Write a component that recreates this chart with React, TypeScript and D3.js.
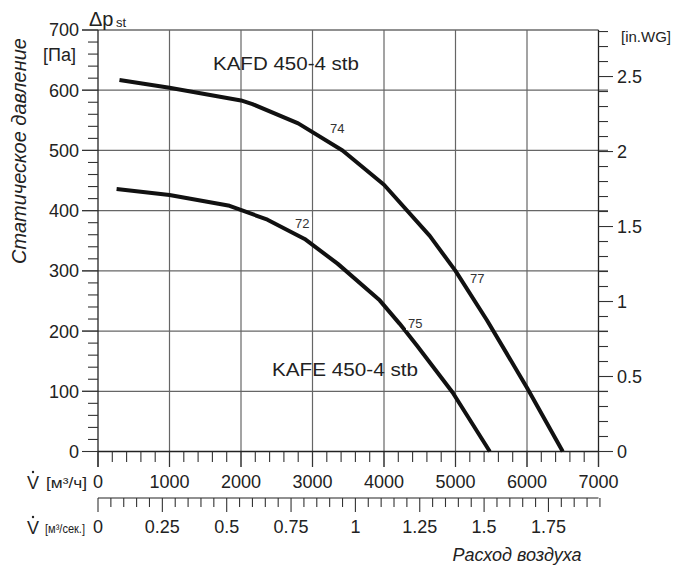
import React from "react";
import * as d3 from "d3";

const kafdFlow = [300, 1000, 2000, 2160, 2800, 3420, 4000, 4640, 5000, 5440, 6000, 6500];
const kafdPa = [617, 604, 583, 577, 545, 500, 443, 358, 300, 218, 106, 0];
const kafeFlow = [260, 1000, 1840, 2370, 2890, 3350, 3940, 4220, 4460, 4960, 5480];
const kafePa = [436, 426, 408, 385, 353, 312, 251, 212, 176, 98, 0];

const xTicksMajor = [0, 1000, 2000, 3000, 4000, 5000, 6000, 7000];
const yTicksMajor = [0, 100, 200, 300, 400, 500, 600, 700];
const wgTicksMajor = [0, 0.5, 1, 1.5, 2, 2.5];
const m3sTicksMajor = [0, 0.25, 0.5, 0.75, 1, 1.25, 1.5, 1.75];

const curveLabels = [
  { text: "KAFD 450-4 stb", flow: 1608, pa: 634 },
  { text: "KAFE 450-4 stb", flow: 2434, pa: 125 },
];
const pointLabels = [
  { text: "74", flow: 3245, pa: 529 },
  { text: "72", flow: 2755, pa: 371 },
  { text: "77", flow: 5203, pa: 280 },
  { text: "75", flow: 4336, pa: 205 },
];

const PA_PER_INWG = 249.089;

export default function App() {
  const x = d3.scaleLinear().domain([0, 7000]).range([98, 598.5]);
  const y = d3.scaleLinear().domain([0, 700]).range([451.5, 30]);
  const font = "'Liberation Sans', Arial, sans-serif";
  const grid = "#666";

  const line = d3
    .line<[number, number]>()
    .x((d) => x(d[0]))
    .y((d) => y(d[1]));

  const kafd: [number, number][] = kafdFlow.map((f, i) => [f, kafdPa[i]]);
  const kafe: [number, number][] = kafeFlow.map((f, i) => [f, kafePa[i]]);

  const yMinor = d3.range(0, 701, 20);
  const xMinor = d3.range(0, 7001, 200);
  const wgMinor = d3.range(0, 2.85, 0.1);
  const m3sMinor = d3.range(0, 1.951, 0.05);
  const yWg = (v: number) => y(v * PA_PER_INWG);
  const xM3s = (v: number) => x(v * 3600);

  const axis2Y = 498;
  const ink = "#222";

  return (
    <svg width={676} height={566} style={{ display: "block", position: "absolute", left: 0, top: 0 }} fontFamily={font}>
      <rect x={0} y={0} width={676} height={566} fill="#fff" />
      {/* horizontal grid */}
      {yTicksMajor.slice(1, 7).map((v) => (
        <line key={"hg" + v} x1={82} x2={608} y1={y(v)} y2={y(v)} stroke={grid} strokeWidth={1.2} />
      ))}
      <line x1={82} x2={598.5} y1={y(700)} y2={y(700)} stroke={ink} strokeWidth={1.2} />
      {/* vertical grid */}
      {xTicksMajor.slice(1, 7).map((v) => (
        <line key={"vg" + v} x1={x(v)} x2={x(v)} y1={y(700)} y2={467} stroke={grid} strokeWidth={1.2} />
      ))}
      {/* left axis */}
      <line x1={x(0)} x2={x(0)} y1={y(700)} y2={467} stroke={ink} strokeWidth={1.3} />
      {yMinor.map((v) => (
        <line key={"ym" + v} x1={v % 100 === 0 ? 82 : 88} x2={x(0)} y1={y(v)} y2={y(v)} stroke="#333" strokeWidth={1.1} />
      ))}
      {yTicksMajor.map((v) => (
        <text key={"yl" + v} x={79} y={y(v)} dy="0.36em" textAnchor="end" fontSize={18} fill={ink}>
          {v}
        </text>
      ))}
      {/* right axis */}
      <line x1={x(7000)} x2={x(7000)} y1={y(700)} y2={467} stroke={ink} strokeWidth={1.3} />
      {wgMinor.map((v, i) => (
        <line key={"wm" + i} x1={x(7000)} x2={i % 5 === 0 ? 613 : 608} y1={yWg(v)} y2={yWg(v)} stroke="#333" strokeWidth={1.1} />
      ))}
      {wgTicksMajor.map((v) => (
        <text key={"wl" + v} x={617} y={yWg(v)} dy="0.36em" fontSize={18} fill={ink}>
          {v}
        </text>
      ))}
      {/* bottom axis */}
      <line x1={x(0)} x2={x(7000)} y1={y(0)} y2={y(0)} stroke={ink} strokeWidth={1.3} />
      {xMinor.map((v) => (
        <line key={"xm" + v} x1={x(v)} x2={x(v)} y1={y(0)} y2={v % 1000 === 0 ? 467 : 462} stroke="#333" strokeWidth={1.1} />
      ))}
      {xTicksMajor.map((v) => (
        <text key={"xl" + v} x={x(v)} y={488} textAnchor="middle" fontSize={18} fill={ink}>
          {v}
        </text>
      ))}
      {/* second axis m3/s */}
      <line x1={x(0)} x2={x(7000)} y1={axis2Y} y2={axis2Y} stroke={ink} strokeWidth={1.2} />
      {m3sMinor.map((v, i) => (
        <line key={"sm" + i} x1={xM3s(v)} x2={xM3s(v)} y1={axis2Y} y2={i % 5 === 0 ? 512 : 507} stroke="#333" strokeWidth={1.1} />
      ))}
      {m3sTicksMajor.map((v) => (
        <text key={"sl" + v} x={xM3s(v)} y={533} textAnchor="middle" fontSize={18} fill={ink}>
          {v}
        </text>
      ))}
      {/* flow unit labels */}
      <text x={27} y={489} fontSize={18} fill={ink}>V</text>
      <circle cx={33} cy={472} r={1.2} fill={ink} />
      <text x={46} y={488} fontSize={14} fill={ink} textLength={41} lengthAdjust="spacingAndGlyphs">[м³/ч]</text>
      <text x={27} y={534} fontSize={18} fill={ink}>V</text>
      <circle cx={33} cy={517} r={1.2} fill={ink} />
      <text x={45} y={533} fontSize={13} fill={ink} textLength={40} lengthAdjust="spacingAndGlyphs">[м³/сек.]</text>
      <text x={517} y={561} textAnchor="middle" fontSize={18} fontStyle="italic" fill={ink}>
        Расход воздуха
      </text>
      {/* y labels */}
      <text x={89} y={26} fontSize={20} fill={ink}>Δp</text>
      <text x={116} y={27} fontSize={13} fill={ink}>st</text>
      <text x={43} y={61} fontSize={18} fill={ink}>[Па]</text>
      <text x={621} y={42} fontSize={15} fill={ink}>[in.WG]</text>
      <text
        transform="translate(26,151) rotate(-90)"
        textAnchor="middle"
        fontSize={20}
        fontStyle="italic"
        fill={ink}
      >
        Статическое давление
      </text>
      {/* curves */}
      <path d={line(kafd) || ""} fill="none" stroke="#111" strokeWidth={4} strokeLinejoin="round" />
      <path d={line(kafe) || ""} fill="none" stroke="#111" strokeWidth={4} strokeLinejoin="round" />
      {curveLabels.map((c) => (
        <text key={c.text} x={x(c.flow)} y={y(c.pa)} fontSize={19} fill={ink} textLength={146} lengthAdjust="spacingAndGlyphs">
          {c.text}
        </text>
      ))}
      {pointLabels.map((p) => (
        <g key={p.text}>
          <rect x={x(p.flow) - 2} y={y(p.pa) - 11} width={19} height={13} fill="#fff" />
          <text x={x(p.flow)} y={y(p.pa)} fontSize={13} fill="#333">
            {p.text}
          </text>
        </g>
      ))}
    </svg>
  );
}
